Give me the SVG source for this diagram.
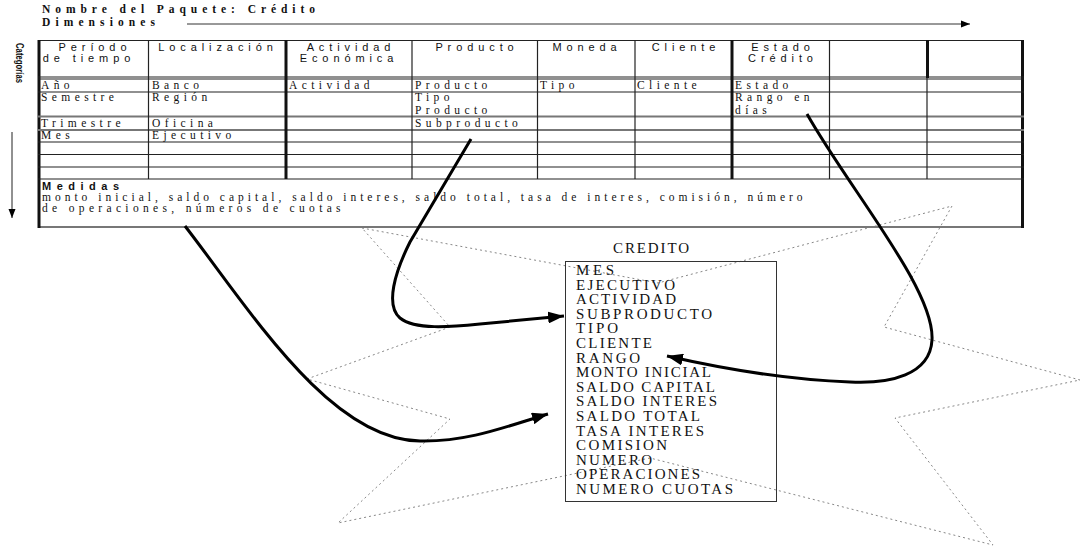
<svg xmlns="http://www.w3.org/2000/svg" width="1082" height="550" viewBox="0 0 1082 550">
<defs>
<style>
.hdr{font-family:"Liberation Sans",Arial,sans-serif;font-size:11px;letter-spacing:4.9px;fill:#111;text-anchor:middle}
.cell{font-family:"Liberation Serif","Times New Roman",serif;font-size:11.5px;letter-spacing:4.4px;fill:#111}
.ttl{font-family:"Liberation Serif","Times New Roman",serif;font-size:11.5px;font-weight:bold;fill:#111}
.item{font-family:"Liberation Serif","Times New Roman",serif;font-size:15px;fill:#111}
.ln{stroke:#222;stroke-width:1.2;fill:none}
.gl{stroke:#777;stroke-width:2;fill:none}
.tk{stroke:#111;stroke-width:3;fill:none}
.star{stroke:#888;stroke-width:1;stroke-dasharray:2 3;fill:none}
.conn{stroke:#000;stroke-width:3;fill:none}
</style>
<marker id="ah" markerUnits="userSpaceOnUse" markerWidth="18" markerHeight="12" refX="16" refY="6" orient="auto">
<path d="M0,0 L16,6 L0,12 Z" fill="#000"/>
</marker>
<marker id="ahs" markerUnits="userSpaceOnUse" markerWidth="10" markerHeight="8" refX="9" refY="4" orient="auto">
<path d="M0,0.5 L9,4 L0,7.5 Z" fill="#000"/>
</marker>
</defs>

<g id="title">
<text class="ttl" x="42" y="13" textLength="273" lengthAdjust="spacing">Nombre del Paquete: Crédito</text>
<text class="ttl" x="42" y="26" textLength="113" lengthAdjust="spacing">Dimensiones</text>
<line x1="187" y1="24" x2="970" y2="24" stroke="#333" stroke-width="1" marker-end="url(#ahs)"/>
</g>

<g id="categorias">
<text x="0" y="0" transform="translate(16,43) rotate(90)" font-family="'Liberation Sans',Arial,sans-serif" font-size="10" font-weight="bold" fill="#111" textLength="40" lengthAdjust="spacingAndGlyphs">Categorías</text>
<line x1="12" y1="132" x2="12" y2="218" stroke="#222" stroke-width="1" marker-end="url(#ahs)"/>
</g>

<g id="star">
<polygon class="star" points="362,228 658,283 952,206 884,327 1080,380 895,418 993,545 650,458 338,523 450,419 307,379 450,327"/>
</g>

<g id="tabla">
<line class="ln" x1="38" y1="40.5" x2="1024" y2="40.5" stroke-width="1.5"/>
<line class="gl" x1="38" y1="227" x2="1024" y2="227"/>
<line class="tk" x1="39" y1="40" x2="39" y2="228"/>
<line class="tk" x1="1022.5" y1="40" x2="1022.5" y2="228"/>
<line class="ln" x1="38" y1="77" x2="1024" y2="77"/>
<line class="ln" x1="38" y1="79" x2="1024" y2="79"/>
<line class="ln" x1="38" y1="92" x2="1024" y2="92"/>
<line class="gl" x1="38" y1="116.5" x2="1024" y2="116.5" stroke-width="1.5"/>
<line class="gl" x1="38" y1="130" x2="1024" y2="130" stroke-width="1.5"/>
<line class="ln" x1="38" y1="142" x2="1024" y2="142"/>
<line class="ln" x1="38" y1="154.5" x2="1024" y2="154.5"/>
<line class="ln" x1="38" y1="167" x2="1024" y2="167"/>
<line class="ln" x1="38" y1="179" x2="1024" y2="179" stroke-width="2"/>
<line class="ln" x1="148.5" y1="40" x2="148.5" y2="179"/>
<line class="tk" x1="286" y1="40" x2="286" y2="179" stroke-width="2.5"/>
<line class="ln" x1="412" y1="40" x2="412" y2="179"/>
<line class="ln" x1="537.5" y1="40" x2="537.5" y2="179"/>
<line class="ln" x1="635" y1="40" x2="635" y2="179"/>
<line class="tk" x1="732" y1="40" x2="732" y2="179" stroke-width="2.5"/>
<line class="ln" x1="829.5" y1="40" x2="829.5" y2="78"/>
<line class="ln" x1="829.5" y1="78" x2="829.5" y2="179" stroke-width="2"/>
<line class="tk" x1="927.5" y1="40" x2="927.5" y2="78" stroke-width="2.5"/>
<line class="ln" x1="927" y1="78" x2="927" y2="179"/>

<text class="hdr" x="95" y="51">Período</text>
<text class="hdr" x="89" y="62">de tiempo</text>
<text class="hdr" x="218" y="51">Localización</text>
<text class="hdr" x="351" y="51">Actividad</text>
<text class="hdr" x="349" y="62">Económica</text>
<text class="hdr" x="477" y="51">Producto</text>
<text class="hdr" x="587" y="51">Moneda</text>
<text class="hdr" x="686" y="51">Cliente</text>
<text class="hdr" x="783" y="51">Estado</text>
<text class="hdr" x="783" y="62">Crédito</text>

<text class="cell" x="41" y="89">Año</text>
<text class="cell" x="41" y="101">Semestre</text>
<text class="cell" x="41" y="127">Trimestre</text>
<text class="cell" x="41" y="139">Mes</text>
<text class="cell" x="152" y="89">Banco</text>
<text class="cell" x="152" y="101">Región</text>
<text class="cell" x="152" y="127">Oficina</text>
<text class="cell" x="152" y="139">Ejecutivo</text>
<text class="cell" x="289" y="89">Actividad</text>
<text class="cell" x="415" y="89">Producto</text>
<text class="cell" x="415" y="101">Tipo</text>
<text class="cell" x="415" y="114">Producto</text>
<text class="cell" x="415" y="127">Subproducto</text>
<text class="cell" x="540" y="89">Tipo</text>
<text class="cell" x="637" y="89">Cliente</text>
<text class="cell" x="735" y="89">Estado</text>
<text class="cell" x="735" y="101">Rango en</text>
<text class="cell" x="735" y="114">días</text>

<text x="42" y="190" font-family="'Liberation Sans',Arial,sans-serif" font-size="11" font-weight="bold" letter-spacing="5.5" fill="#111">Medidas</text>
<text class="cell" x="42" y="201" letter-spacing="0" textLength="765" lengthAdjust="spacing">monto inicial, saldo capital, saldo interes, saldo total, tasa de interes, comisión, número</text>
<text class="cell" x="42" y="212" letter-spacing="0" textLength="303" lengthAdjust="spacing">de operaciones, números de cuotas</text>
</g>

<g id="credito">
<text class="item" x="613" y="253" font-size="14" textLength="76" lengthAdjust="spacing">CREDITO</text>
<rect x="565.5" y="261.5" width="211" height="240" fill="none" stroke="#333" stroke-width="1"/>
<text class="item" x="576" y="275" textLength="38" lengthAdjust="spacing">MES</text>
<text class="item" x="576" y="289.6" textLength="99" lengthAdjust="spacing">EJECUTIVO</text>
<text class="item" x="576" y="304.2" textLength="100" lengthAdjust="spacing">ACTIVIDAD</text>
<text class="item" x="576" y="318.8" textLength="136" lengthAdjust="spacing">SUBPRODUCTO</text>
<text class="item" x="576" y="333.4" textLength="42" lengthAdjust="spacing">TIPO</text>
<text class="item" x="576" y="348" textLength="76" lengthAdjust="spacing">CLIENTE</text>
<text class="item" x="576" y="362.6" textLength="64" lengthAdjust="spacing">RANGO</text>
<text class="item" x="576" y="377.2" textLength="135" lengthAdjust="spacing">MONTO INICIAL</text>
<text class="item" x="576" y="391.8" textLength="139" lengthAdjust="spacing">SALDO CAPITAL</text>
<text class="item" x="576" y="406.4" textLength="141" lengthAdjust="spacing">SALDO INTERES</text>
<text class="item" x="576" y="421" textLength="124" lengthAdjust="spacing">SALDO TOTAL</text>
<text class="item" x="576" y="435.6" textLength="128" lengthAdjust="spacing">TASA INTERES</text>
<text class="item" x="576" y="450.2" textLength="91" lengthAdjust="spacing">COMISION</text>
<text class="item" x="576" y="464.8" textLength="76" lengthAdjust="spacing">NUMERO</text>
<text class="item" x="576" y="479.4" textLength="124" lengthAdjust="spacing">OPERACIONES</text>
<text class="item" x="576" y="494" textLength="157" lengthAdjust="spacing">NUMERO CUOTAS</text>
</g>

<g id="connectors">
<path class="conn" d="M185,226 C 250,310 330,440 420,441 C 470,442 510,425 548,414" marker-end="url(#ah)"/>
<path class="conn" d="M471,139 L 410,242 C 395,272 385,305 400,318 C 415,330 450,327 480,324 L 564,316" marker-end="url(#ah)"/>
<path class="conn" d="M807,114 C 850,190 935,290 932,340 C 930,375 890,384 850,382 C 790,380 720,368 667,356" marker-end="url(#ah)"/>
</g>
</svg>
